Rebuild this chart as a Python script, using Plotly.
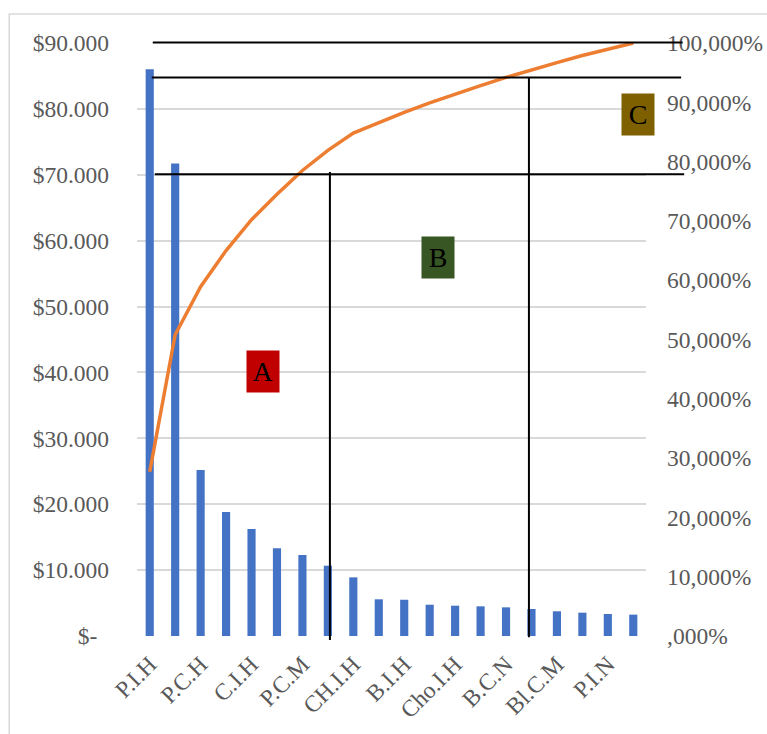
import plotly.graph_objects as go

# Data
labels = ["P.I.H", "P.C.H", "C.I.H", "P.C.M", "CH.I.H", "B.I.H", "Cho.I.H", "B.C.N", "Bl.C.M", "P.I.N"]
values = [86000, 71700, 25200, 18820, 16240, 13300, 12290, 10670, 8900, 5570,
          5500, 4750, 4600, 4500, 4350, 4100, 3750, 3540, 3340, 3240]
cum_pct = [27.7, 50.8, 58.9, 65.0, 70.2, 74.5, 78.5, 81.9, 84.8, 86.6,
           88.3, 89.9, 91.4, 92.8, 94.2, 95.5, 96.7, 97.9, 99.0, 100.0]
positions = list(range(len(values)))

left_ticks = [0, 10000, 20000, 30000, 40000, 50000, 60000, 70000, 80000, 90000]
left_text = ["$-\u00a0\u00a0", "$10.000", "$20.000", "$30.000", "$40.000", "$50.000",
             "$60.000", "$70.000", "$80.000", "$90.000"]
right_ticks = [0, 10, 20, 30, 40, 50, 60, 70, 80, 90, 100]
right_text = [",000%", "10,000%", "20,000%", "30,000%", "40,000%", "50,000%",
              "60,000%", "70,000%", "80,000%", "90,000%", "100,000%"]

FONT = "Liberation Serif, Times New Roman, serif"
GRAY = "#595959"
FS = 23.5

fig = go.Figure()
fig.add_trace(go.Bar(x=positions, y=values, width=0.32, marker_color="#4472C4",
                     marker_line_width=0, showlegend=False))
fig.add_trace(go.Scatter(x=positions, y=cum_pct, yaxis="y2", mode="lines",
                         line=dict(color="#ED7D31", width=3.5), showlegend=False))

fig.update_layout(
    width=767, height=734,
    margin=dict(l=137, r=121, t=43, b=98, autoexpand=False),
    paper_bgcolor="white", plot_bgcolor="white",
    font=dict(family=FONT, color=GRAY, size=FS),
    xaxis=dict(range=[-0.5, 19.5], tickmode="array", tickvals=positions[::2], ticktext=labels,
               tickangle=-45, showgrid=False, zeroline=False, showline=False, automargin=False,
               tickfont=dict(family=FONT, size=FS, color=GRAY), ticks="", ticklabelstandoff=9),
    yaxis=dict(range=[0, 90000], tickmode="array", tickvals=left_ticks, ticktext=left_text,
               tickfont=dict(family=FONT, size=FS, color=GRAY), automargin=False,
               showgrid=True, gridcolor="#D9D9D9", gridwidth=1.5, zeroline=False,
               showline=False, ticks="", ticklabelstandoff=27),
    yaxis2=dict(range=[0, 100], overlaying="y", side="right", tickmode="array",
                tickfont=dict(family=FONT, size=FS, color=GRAY), automargin=False,
                tickvals=right_ticks, ticktext=right_text, showgrid=False, zeroline=False,
                showline=False, ticks="", ticklabelstandoff=20),
)

# outer chart border
fig.add_shape(type="rect", xref="paper", yref="paper", x0=-0.251, x1=1.24, y0=-0.17, y1=1.049,
              line=dict(color="#D9D9D9", width=1.5), fillcolor="rgba(0,0,0,0)", layer="below")

# Pareto division lines
lines = [
    (0.031, 1.001, 1.072, 1.001),
    (0.029, 0.942, 1.069, 0.942),
    (0.035, 0.7786, 1.075, 0.7786),
    (0.379, 0.7825, 0.379, -0.0067),
    (0.770, 0.9427, 0.770, -0.002),
]
for x0, y0, x1, y1 in lines:
    fig.add_shape(type="line", xref="paper", yref="paper", x0=x0, y0=y0, x1=x1, y1=y1,
                  line=dict(color="black", width=2))

# class labels
boxes = [("A", 4.45, 40140, "#C00000"), ("B", 11.32, 57440, "#375623"), ("C", 19.2, 79140, "#7F6000")]
for t, xx, yy, col in boxes:
    fig.add_annotation(x=xx, y=yy, xref="x", yref="y", text=t, showarrow=False,
                       bgcolor=col, font=dict(family=FONT, size=28, color="black"),
                       borderpad=2, width=28, height=37)

fig.write_html("out.html")
